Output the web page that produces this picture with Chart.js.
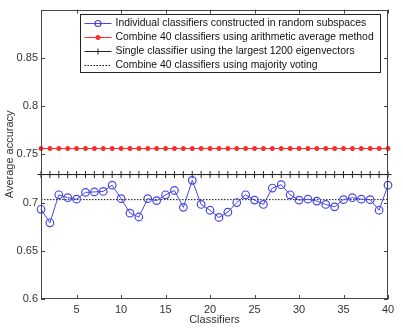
<!DOCTYPE html>
<html>
<head>
<meta charset="utf-8">
<script src="https://cdn.jsdelivr.net/npm/chart.js@4/dist/chart.umd.min.js"></script>
<style>
  body { margin: 0; background: #fff; }
  #wrap { width: 403px; height: 328px; }
</style>
</head>
<body>
<div id="wrap"><canvas id="chart" width="403" height="328"></canvas></div>
<script>
// data
const classifiers = [1,2,3,4,5,6,7,8,9,10,11,12,13,14,15,16,17,18,19,20,
                     21,22,23,24,25,26,27,28,29,30,31,32,33,34,35,36,37,38,39,40];
const individualAcc = [0.693,0.679,0.708,0.705,0.7035,0.7105,0.711,0.7115,0.718,0.704,
                       0.689,0.685,0.704,0.702,0.708,0.7125,0.695,0.723,0.698,0.692,
                       0.6845,0.690,0.700,0.708,0.7025,0.698,0.715,0.7185,0.708,0.7025,
                       0.7035,0.7015,0.698,0.6955,0.703,0.705,0.7035,0.703,0.692,0.718];
const arithmeticAcc = 0.756;
const singleAcc = 0.729;
const votingAcc = 0.703;
const xTickLabels = [5,10,15,20,25,30,35,40];
const yTicks = [0.6,0.65,0.7,0.75,0.8,0.85];
const seriesNames = [
  'Individual classifiers constructed in random subspaces',
  'Combine 40 classifiers using arithmetic average method',
  'Single classifier using the largest 1200 eigenvectors',
  'Combine 40 classifiers using majority voting'
];

Chart.defaults.font.family = '"Liberation Sans", Arial, sans-serif';
Chart.defaults.font.size = 11;
Chart.defaults.color = '#333';

// matlab style box, inward ticks and legend inside the axes
const matlabBox = {
  id: 'matlabBox',
  afterDraw(chart) {
    const { ctx, chartArea: a, scales: { x, y } } = chart;
    ctx.save();
    ctx.strokeStyle = '#444';
    ctx.lineWidth = 1;
    ctx.strokeRect(Math.round(a.left) + 0.5, Math.round(a.top) + 0.5,
                   Math.round(a.width) - 1, Math.round(a.height) - 1);
    const len = 4;
    ctx.beginPath();
    x.ticks.forEach((t, i) => {
      if (!xTickLabels.includes(classifiers[i])) return;
      const px = Math.round(x.getPixelForTick(i)) + 0.5;
      ctx.moveTo(px, a.bottom); ctx.lineTo(px, a.bottom - len);
      ctx.moveTo(px, a.top); ctx.lineTo(px, a.top + len);
    });
    yTicks.forEach(v => {
      const py = Math.round(y.getPixelForValue(v)) + 0.5;
      ctx.moveTo(a.left, py); ctx.lineTo(a.left + len, py);
      ctx.moveTo(a.right, py); ctx.lineTo(a.right - len, py);
    });
    ctx.stroke();

    // legend
    const bx = Math.round(a.left) + 39.5, by = Math.round(a.top) + 4.5;
    const bw = 300, bh = 58, rowH = 14;
    ctx.fillStyle = '#fff';
    ctx.fillRect(bx, by, bw, bh);
    ctx.strokeStyle = '#222';
    ctx.strokeRect(bx, by, bw, bh);
    ctx.font = '10.4px "Liberation Sans", Arial, sans-serif';
    ctx.textBaseline = 'middle';
    chart.data.datasets.forEach((ds, i) => {
      const ry = Math.round(by + 8 + i * rowH) + 0.5;
      ctx.save();
      ctx.strokeStyle = ds.borderColor;
      ctx.lineWidth = ds.borderWidth;
      ctx.setLineDash(ds.borderDash || []);
      ctx.beginPath();
      ctx.moveTo(bx + 4, ry); ctx.lineTo(bx + 31, ry);
      ctx.stroke();
      ctx.setLineDash([]);
      if (ds.pointRadius > 0) {
        ctx.strokeStyle = ds.pointBorderColor;
        ctx.fillStyle = ds.pointBackgroundColor;
        ctx.lineWidth = ds.pointBorderWidth;
        Chart.helpers.drawPoint(ctx, {
          pointStyle: ds.pointStyle, radius: Math.min(ds.pointRadius, 3),
          rotation: 0, borderWidth: ds.pointBorderWidth
        }, bx + 17.5, ry);
      }
      ctx.restore();
      ctx.fillStyle = '#111';
      ctx.fillText(ds.label, bx + 35, ry);
    });
    ctx.restore();
  }
};

new Chart(document.getElementById('chart'), {
  type: 'line',
  data: {
    labels: classifiers,
    datasets: [
      {
        label: seriesNames[0],
        data: individualAcc,
        borderColor: '#4646e6',
        borderWidth: 1,
        pointStyle: 'circle',
        pointRadius: 3.8,
        pointBorderColor: '#4646e6',
        pointBackgroundColor: 'rgba(255,255,255,0)',
        pointBorderWidth: 1.2
      },
      {
        label: seriesNames[1],
        data: classifiers.map(() => arithmeticAcc),
        borderColor: '#ff2a2a',
        borderWidth: 1,
        pointStyle: 'star',
        pointRadius: 2.5,
        pointBorderColor: '#ff2a2a',
        pointBackgroundColor: '#ff2a2a',
        pointBorderWidth: 1.5
      },
      {
        label: seriesNames[2],
        data: classifiers.map(() => singleAcc),
        borderColor: '#222',
        borderWidth: 1,
        pointStyle: 'cross',
        pointRadius: 3.5,
        pointBorderColor: '#222',
        pointBackgroundColor: '#222',
        pointBorderWidth: 1
      },
      {
        label: seriesNames[3],
        data: classifiers.map(() => votingAcc),
        borderColor: '#111',
        borderWidth: 1,
        borderDash: [1.5, 1.5],
        pointRadius: 0,
        pointBorderWidth: 0
      }
    ]
  },
  options: {
    responsive: false,
    animation: false,
    layout: { padding: { left: 0, right: 15, top: 9, bottom: 0 } },
    plugins: { legend: { display: false }, tooltip: { enabled: false } },
    elements: { line: { tension: 0 } },
    scales: {
      x: {
        type: 'category',
        offset: false,
        grid: { display: false, drawTicks: false },
        border: { display: false },
        ticks: {
          autoSkip: false,
          maxRotation: 0,
          padding: 4,
          color: '#333',
          callback: (v, i) => xTickLabels.includes(classifiers[i]) ? classifiers[i] : ''
        },
        title: { display: true, text: 'Classifiers', color: '#333', padding: { top: 0, bottom: 1 } },
        afterFit: s => { s.height = 29; }
      },
      y: {
        min: 0.6,
        max: 0.9,
        grid: { display: false, drawTicks: false },
        border: { display: false },
        afterBuildTicks: s => { s.ticks = yTicks.map(v => ({ value: v })); },
        ticks: { padding: 3, color: '#333', callback: v => String(v) },
        title: { display: true, text: 'Average accuracy', color: '#333', padding: { top: 3, bottom: 0 } },
        afterFit: s => { s.width = 41; }
      }
    }
  },
  plugins: [matlabBox]
});
</script>
</body>
</html>
